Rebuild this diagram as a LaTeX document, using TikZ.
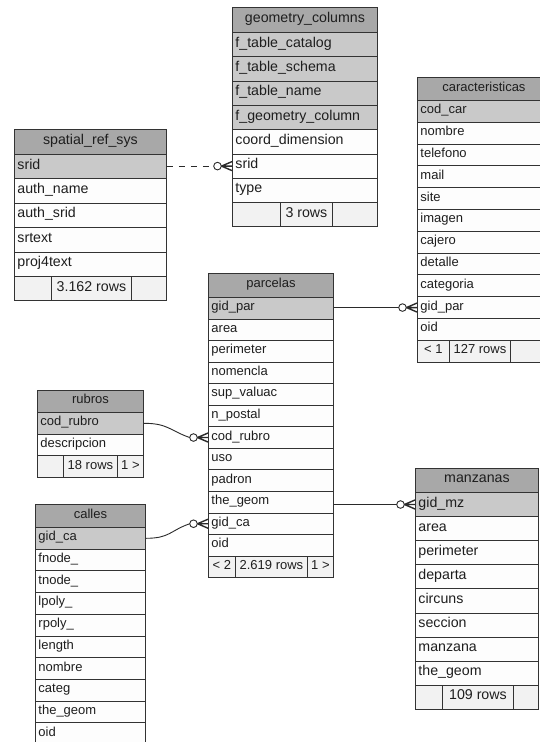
\documentclass[tikz,border=0pt]{standalone}
\usepackage{fontspec}
\setmainfont{Liberation Sans}
\usetikzlibrary{calc}

\definecolor{hdrgray}{HTML}{A8A8A8}
\definecolor{keygray}{HTML}{C9C9C9}
\definecolor{rowwhite}{HTML}{FDFDFD}
\definecolor{footgray}{HTML}{F2F2F2}
\definecolor{edgegray}{HTML}{333333}
\definecolor{inkgray}{HTML}{1E1E1E}
\definecolor{linkgray}{HTML}{2A2A2A}

\newcommand\fbig{\fontsize{14.2}{16}\selectfont}
\newcommand\fsmall{\fontsize{13}{15}\selectfont}

% one entity table: id, left x, top y, width, header height, row height, font, title, rows (text/fill)
\newcommand\ertable[9]{%
  \node[hdr, font=#7, minimum width=#4, minimum height=#5] (#1-0) at (#2,#3) {#8};
  \pgfmathsetmacro\erTextW{#4-6}
  \foreach \txt/\fc [count=\i] in {#9} {
    \pgfmathsetmacro\erRowY{#3+#5+(\i-1)*#6}
    \node[cell, fill=\fc, font=#7, minimum width=#4, text width=\erTextW pt,
          minimum height=#6] (#1-\i) at (#2,\erRowY) {\txt};
  }%
}

% footer strip with row counters: id, top y, height, font, cells (x from/x to/text)
\newcommand\erfooter[5]{%
  \foreach \xa/\xb/\t [count=\i] in {#5} {
    \pgfmathsetmacro\erCellW{\xb-\xa}
    \node[foot, font=#4, minimum width=\erCellW, minimum height=#3] (#1-f\i) at (\xa,#2) {\t};
  }%
}

% "zero or many" end of a relationship at the west side of a row
\newcommand\manyend[1]{%
  \draw[link, fill=white] ($(#1.west)+(-14.5,0)$) circle (3.8);
  \draw[link, line width=1.4pt]
    ($(#1.west)+(-10.5,0)$) -- ($(#1.west)+(0,4.5)$)
    ($(#1.west)+(-10.5,0)$) -- (#1.west)
    ($(#1.west)+(-10.5,0)$) -- ($(#1.west)+(0,-4.5)$);
}

\tikzset{
  base/.style={draw=edgegray, line width=0.9pt, rectangle, anchor=north west,
    inner ysep=0pt, text=inkgray, text height=0.72em, text depth=0.22em},
  hdr/.style={base, fill=hdrgray, inner xsep=0pt, align=center},
  cell/.style={base, inner xsep=3pt, align=left},
  foot/.style={base, fill=footgray, inner xsep=0pt, align=center},
  link/.style={draw=linkgray, line width=0.9pt},
}

\begin{document}
\begin{tikzpicture}[x=1pt, y=-1pt]
\useasboundingbox (0,0) rectangle (540,742);
\fill[white] (0,0) rectangle (540,742);
\clip (0,0) rectangle (540,742);

% geometry_columns
\ertable{gc}{232}{7}{145}{25}{24.3}{\fbig}{geometry\_columns}{%
  f\_table\_catalog/keygray, f\_table\_schema/keygray, f\_table\_name/keygray,
  f\_geometry\_column/keygray, coord\_dimension/rowwhite, srid/rowwhite, type/rowwhite}
\erfooter{gc}{202.1}{24.3}{\fbig}{232/280/{}, 280/332/3 rows, 332/377/{}}

% spatial_ref_sys
\ertable{sr}{14}{129}{152}{25}{24.4}{\fbig}{spatial\_ref\_sys}{%
  srid/keygray, auth\_name/rowwhite, auth\_srid/rowwhite, srtext/rowwhite, proj4text/rowwhite}
\erfooter{sr}{276}{24.4}{\fbig}{14/51/{}, 51/131/3.162 rows, 131/166/{}}

% caracteristicas
\ertable{ca}{417}{77}{133}{23}{21.8}{\fsmall}{caracteristicas}{%
  cod\_car/keygray, nombre/rowwhite, telefono/rowwhite, mail/rowwhite, site/rowwhite,
  imagen/rowwhite, cajero/rowwhite, detalle/rowwhite, categoria/rowwhite,
  gid\_par/rowwhite, oid/rowwhite}
\erfooter{ca}{339.8}{21.8}{\fsmall}{417/449/< 1, 449/510/127 rows, 510/550/{}}

% parcelas
\ertable{pc}{208}{273}{125}{24}{21.55}{\fsmall}{parcelas}{%
  gid\_par/keygray, area/rowwhite, perimeter/rowwhite, nomencla/rowwhite,
  sup\_valuac/rowwhite, n\_postal/rowwhite, cod\_rubro/rowwhite, uso/rowwhite,
  padron/rowwhite, the\_geom/rowwhite, gid\_ca/rowwhite, oid/rowwhite}
\erfooter{pc}{555.6}{21.55}{\fsmall}{208/235/< 2, 235/307/2.619 rows, 307/333/1 >}

% rubros
\ertable{rb}{37}{390}{106}{22}{21.7}{\fsmall}{rubros}{%
  cod\_rubro/keygray, descripcion/rowwhite}
\erfooter{rb}{455.4}{21.7}{\fsmall}{37/63/{}, 63/117/18 rows, 117/143/1 >}

% calles
\ertable{cl}{35}{504}{110}{23}{21.7}{\fsmall}{calles}{%
  gid\_ca/keygray, fnode\_/rowwhite, tnode\_/rowwhite, lpoly\_/rowwhite,
  rpoly\_/rowwhite, length/rowwhite, nombre/rowwhite, categ/rowwhite,
  the\_geom/rowwhite, oid/rowwhite}

% manzanas
\ertable{mz}{415}{468}{123}{24}{24.1}{\fbig}{manzanas}{%
  gid\_mz/keygray, area/rowwhite, perimeter/rowwhite, departa/rowwhite,
  circuns/rowwhite, seccion/rowwhite, manzana/rowwhite, the\_geom/rowwhite}
\erfooter{mz}{684.8}{24.1}{\fbig}{415/442/{}, 442/513/109 rows, 513/538/{}}

% relationships
\draw[link, dash pattern=on 6pt off 6pt] (sr-1.east |- gc-6.west) -- ($(gc-6.west)+(-18.3,0)$);
\manyend{gc-6}

\draw[link] (pc-1.east |- ca-10.west) -- ($(ca-10.west)+(-18.3,0)$);
\manyend{ca-10}

\draw[link] (pc-10.east |- mz-1.west) -- ($(mz-1.west)+(-18.3,0)$);
\manyend{mz-1}

\draw[link] (rb-1.east) .. controls +(24,0) and +(-20,-7) .. ($(pc-7.west)+(-18.3,0)$);
\manyend{pc-7}

\draw[link] (cl-1.east) .. controls +(24,0) and +(-20,7) .. ($(pc-11.west)+(-18.3,0)$);
\manyend{pc-11}
\end{tikzpicture}
\end{document}
